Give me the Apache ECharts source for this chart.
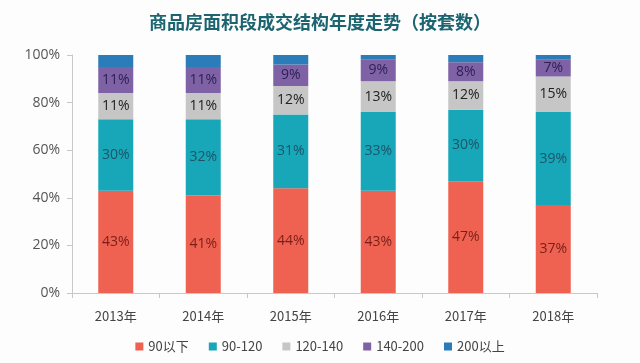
<!DOCTYPE html>
<html><head><meta charset="utf-8">
<script src="https://cdn.jsdelivr.net/npm/echarts@6/dist/echarts.min.js"></script>
<style>html,body{margin:0;padding:0;background:#fdfdfd}#c{width:640px;height:363px}</style>
</head><body><div id="c"></div>
<script>
var categories = ['2013年','2014年','2015年','2016年','2017年','2018年'];
var seriesNames = ['90以下','90-120','120-140','140-200','200以上'];
var s90below = [43, 41, 44, 43, 47, 37];
var s90to120 = [30, 32, 31, 33, 30, 39];
var s120to140 = [11, 11, 12, 13, 12, 15];
var s140to200 = [11, 11, 9, 9, 8, 7];
var s200above = [5, 5, 4, 2, 3, 2];
var yTicks = [0, 20, 40, 60, 80, 100];

var dataSets = [s90below, s90to120, s120to140, s140to200, s200above];
var colors = ['#EF6151', '#17A7B8', '#C6C6C6', '#7F62A6', '#2A7DB8'];
var labelColors = ['#7a1f18', '#1c5568', '#222222', '#2e2152', null];

var series = dataSets.map(function(d, i){
  return {
    name: seriesNames[i], type: 'bar', stack: 'total', data: d,
    barWidth: 35,
    itemStyle: {color: colors[i]},
    label: labelColors[i] ? {show: true, position: 'inside', formatter: '{c}%', color: labelColors[i], fontSize: 14, fontFamily: 'Open Sans'} : {show: false}
  };
});

var chart = echarts.init(document.getElementById('c'));
chart.setOption({
  backgroundColor: '#fdfdfd',
  animation: false,
  title: {
    text: '商品房面积段成交结构年度走势（按套数）',
    left: 'center', top: 8,
    textStyle: {color: '#1b6470', fontSize: 18, fontWeight: 'bold', fontFamily: 'Noto Sans CJK SC'}
  },
  legend: {
    data: seriesNames, bottom: 5, left: 'center',
    itemWidth: 8, itemHeight: 8, itemGap: 20,
    icon: 'rect',
    textStyle: {fontSize: 13, color: '#444', fontFamily: 'Noto Sans CJK SC'}
  },
  grid: {left: 72, right: 43, top: 55, bottom: 70},
  xAxis: {
    type: 'category', data: categories,
    axisLine: {lineStyle: {color: '#c8c8c8'}},
    axisTick: {show: true, length: 5, lineStyle: {color: '#c8c8c8'}},
    axisLabel: {fontSize: 13, color: '#444', margin: 17, fontFamily: 'Noto Sans CJK SC'}
  },
  yAxis: {
    type: 'value', min: 0, max: 100, interval: 20,
    axisLine: {show: true, lineStyle: {color: '#c8c8c8'}},
    axisTick: {show: true, length: 5, lineStyle: {color: '#c8c8c8'}},
    splitLine: {show: false},
    axisLabel: {fontSize: 14, color: '#555', margin: 12, fontFamily: 'Open Sans',
      formatter: function(v){ return yTicks.indexOf(v) >= 0 ? v + '%' : ''; }}
  },
  series: series
});
</script>
</body></html>
